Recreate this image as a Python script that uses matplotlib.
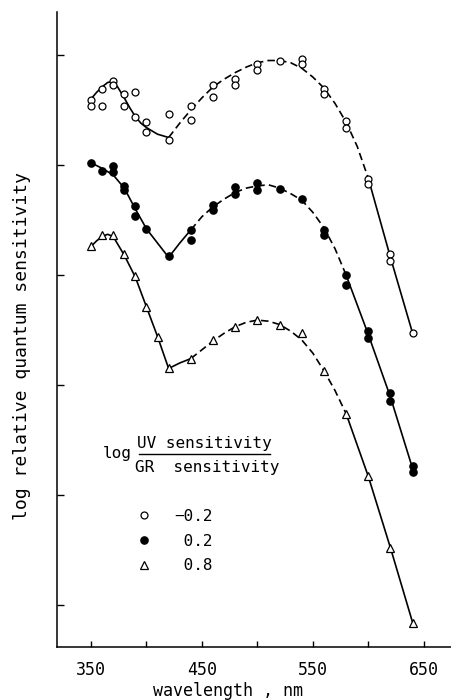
import matplotlib
matplotlib.use("Agg")
import matplotlib.pyplot as plt
from matplotlib.lines import Line2D

plt.rcParams['font.family'] = ['DejaVu Sans Mono', 'DejaVu Sans']

# measured points: wavelength (nm) and log relative quantum sensitivity
open_wl = [350, 350, 360, 360, 370, 370, 380, 380, 390, 390, 400, 400,
           420, 420, 440, 440, 460, 460, 480, 480, 500, 500, 520, 540, 540,
           560, 560, 580, 580, 600, 600, 620, 620, 640]
open_val = [5.59, 5.54, 5.54, 5.69, 5.76, 5.73, 5.65, 5.54, 5.66, 5.44, 5.39, 5.30,
            5.46, 5.23, 5.54, 5.41, 5.73, 5.62, 5.78, 5.73, 5.92, 5.86, 5.95, 5.96, 5.92,
            5.69, 5.65, 5.40, 5.34, 4.87, 4.83, 4.19, 4.13, 3.47]

filled_wl = [350, 360, 370, 370, 380, 380, 390, 390, 400, 420, 440, 440,
             460, 460, 480, 480, 500, 500, 520, 540, 560, 560, 580, 580,
             600, 600, 620, 620, 640, 640]
filled_val = [5.02, 4.95, 4.99, 4.94, 4.81, 4.77, 4.63, 4.54, 4.42, 4.17, 4.41, 4.32,
              4.64, 4.59, 4.80, 4.74, 4.84, 4.77, 4.78, 4.69, 4.41, 4.36, 4.00, 3.91,
              3.49, 3.43, 2.93, 2.85, 2.26, 2.21]

tri_wl = [350, 360, 370, 380, 390, 400, 410, 420, 440, 460, 480, 500,
          520, 540, 560, 580, 600, 620, 640]
tri_val = [4.26, 4.36, 4.36, 4.19, 3.99, 3.71, 3.44, 3.15, 3.24, 3.41, 3.53, 3.59,
           3.55, 3.47, 3.13, 2.74, 2.17, 1.52, 0.84]

# hand-drawn fitted curves (solid / dashed / solid parts)
open_c1_wl = [350, 355, 360, 365, 369, 374, 380, 385, 390, 395, 400, 410, 420]
open_c1_val = [5.60, 5.66, 5.71, 5.75, 5.76, 5.71, 5.61, 5.52, 5.44, 5.38, 5.34, 5.28, 5.25]
open_c2_wl = [420, 430, 440, 450, 460, 470, 480, 490, 500, 510, 520, 530, 540,
              550, 560, 570, 580, 590, 600]
open_c2_val = [5.25, 5.38, 5.50, 5.61, 5.71, 5.78, 5.84, 5.89, 5.93, 5.95, 5.95, 5.93, 5.88,
               5.80, 5.70, 5.56, 5.39, 5.17, 4.88]
open_c3_wl = [600, 620, 640]
open_c3_val = [4.88, 4.16, 3.47]

filled_c1_wl = [350, 360, 370, 380, 390, 400, 410, 420, 430, 440]
filled_c1_val = [5.02, 4.97, 4.91, 4.79, 4.60, 4.42, 4.29, 4.16, 4.29, 4.41]
filled_c2_wl = [440, 450, 460, 470, 480, 490, 500, 510, 520, 530, 540, 550, 560, 570, 580]
filled_c2_val = [4.41, 4.53, 4.62, 4.69, 4.75, 4.79, 4.81, 4.82, 4.79, 4.74, 4.68, 4.57,
                 4.43, 4.24, 4.00]
filled_c3_wl = [580, 600, 620, 640]
filled_c3_val = [4.00, 3.46, 2.89, 2.24]

tri_c1_wl = [350, 355, 360, 365, 370, 380, 390, 400, 410, 420, 430, 440]
tri_c1_val = [4.26, 4.31, 4.35, 4.37, 4.35, 4.18, 3.98, 3.71, 3.44, 3.15, 3.20, 3.24]
tri_c2_wl = [440, 450, 460, 470, 480, 490, 500, 510, 520, 530, 540, 550, 560, 570, 580]
tri_c2_val = [3.24, 3.32, 3.40, 3.47, 3.53, 3.57, 3.59, 3.58, 3.55, 3.49, 3.41, 3.29,
              3.13, 2.95, 2.74]
tri_c3_wl = [580, 600, 620, 640]
tri_c3_val = [2.74, 2.17, 1.52, 0.84]

legend_labels = ['\u22120.2', ' 0.2', ' 0.8']

fig = plt.figure(figsize=(4.52, 7.0), dpi=100)
ax = fig.add_axes([0.126, 0.0757, 0.874, 0.907])

dash = (0, (4.5, 2.5))
lw = 1.2
for wl, val, ls in [(open_c1_wl, open_c1_val, '-'), (open_c2_wl, open_c2_val, dash),
                    (open_c3_wl, open_c3_val, '-'),
                    (filled_c1_wl, filled_c1_val, '-'), (filled_c2_wl, filled_c2_val, dash),
                    (filled_c3_wl, filled_c3_val, '-'),
                    (tri_c1_wl, tri_c1_val, '-'), (tri_c2_wl, tri_c2_val, dash),
                    (tri_c3_wl, tri_c3_val, '-')]:
    ax.plot(wl, val, color='black', lw=lw, linestyle=ls, zorder=2)

h1, = ax.plot(open_wl, open_val, 'o', ms=5, mfc='white', mec='black', mew=0.9, zorder=3)
h2, = ax.plot(filled_wl, filled_val, 'o', ms=5.2, mfc='black', mec='black', zorder=3)
h3, = ax.plot(tri_wl, tri_val, '^', ms=5.5, mfc='white', mec='black', mew=0.9, zorder=3)

ax.set_xlim(319.3, 675.5)
ax.set_ylim(0.618, 6.39)

ax.spines['top'].set_visible(False)
ax.spines['right'].set_visible(False)
ax.spines['left'].set_linewidth(1.1)
ax.spines['bottom'].set_linewidth(1.1)

ax.set_xticks([350, 450, 550, 650])
ax.set_xticks([400, 500, 600], minor=True)
ax.set_yticks([1, 2, 3, 4, 5, 6])
ax.set_yticklabels([])
ax.tick_params(axis='x', which='both', direction='in', length=4, width=1, pad=10,
               labelsize=12)
ax.tick_params(axis='y', direction='in', length=5, width=1)

fig.text(0.049, 0.506, 'log relative quantum sensitivity', rotation=90,
         ha='center', va='center', fontsize=13)
fig.text(0.504, 0.0135, 'wavelength , nm', ha='center', va='center', fontsize=12)

# legend title as a fraction
ax.text(0.152, 0.305, 'log', transform=ax.transAxes, ha='center', va='center', fontsize=11.5)
ax.text(0.373, 0.321, 'UV sensitivity', transform=ax.transAxes, ha='center', va='center',
        fontsize=11.5)
ax.text(0.380, 0.282, 'GR  sensitivity', transform=ax.transAxes, ha='center', va='center',
        fontsize=11.5)
ax.add_line(Line2D([0.208, 0.539], [0.304, 0.304], transform=ax.transAxes,
                   color='black', lw=1))

ax.legend([h1, h2, h3], legend_labels, loc='upper left', bbox_to_anchor=(0.183, 0.228),
          frameon=False, fontsize=11.5, handlelength=1, handletextpad=1.4,
          labelspacing=0.62, borderaxespad=0)

fig.savefig('out.png', dpi=100)
